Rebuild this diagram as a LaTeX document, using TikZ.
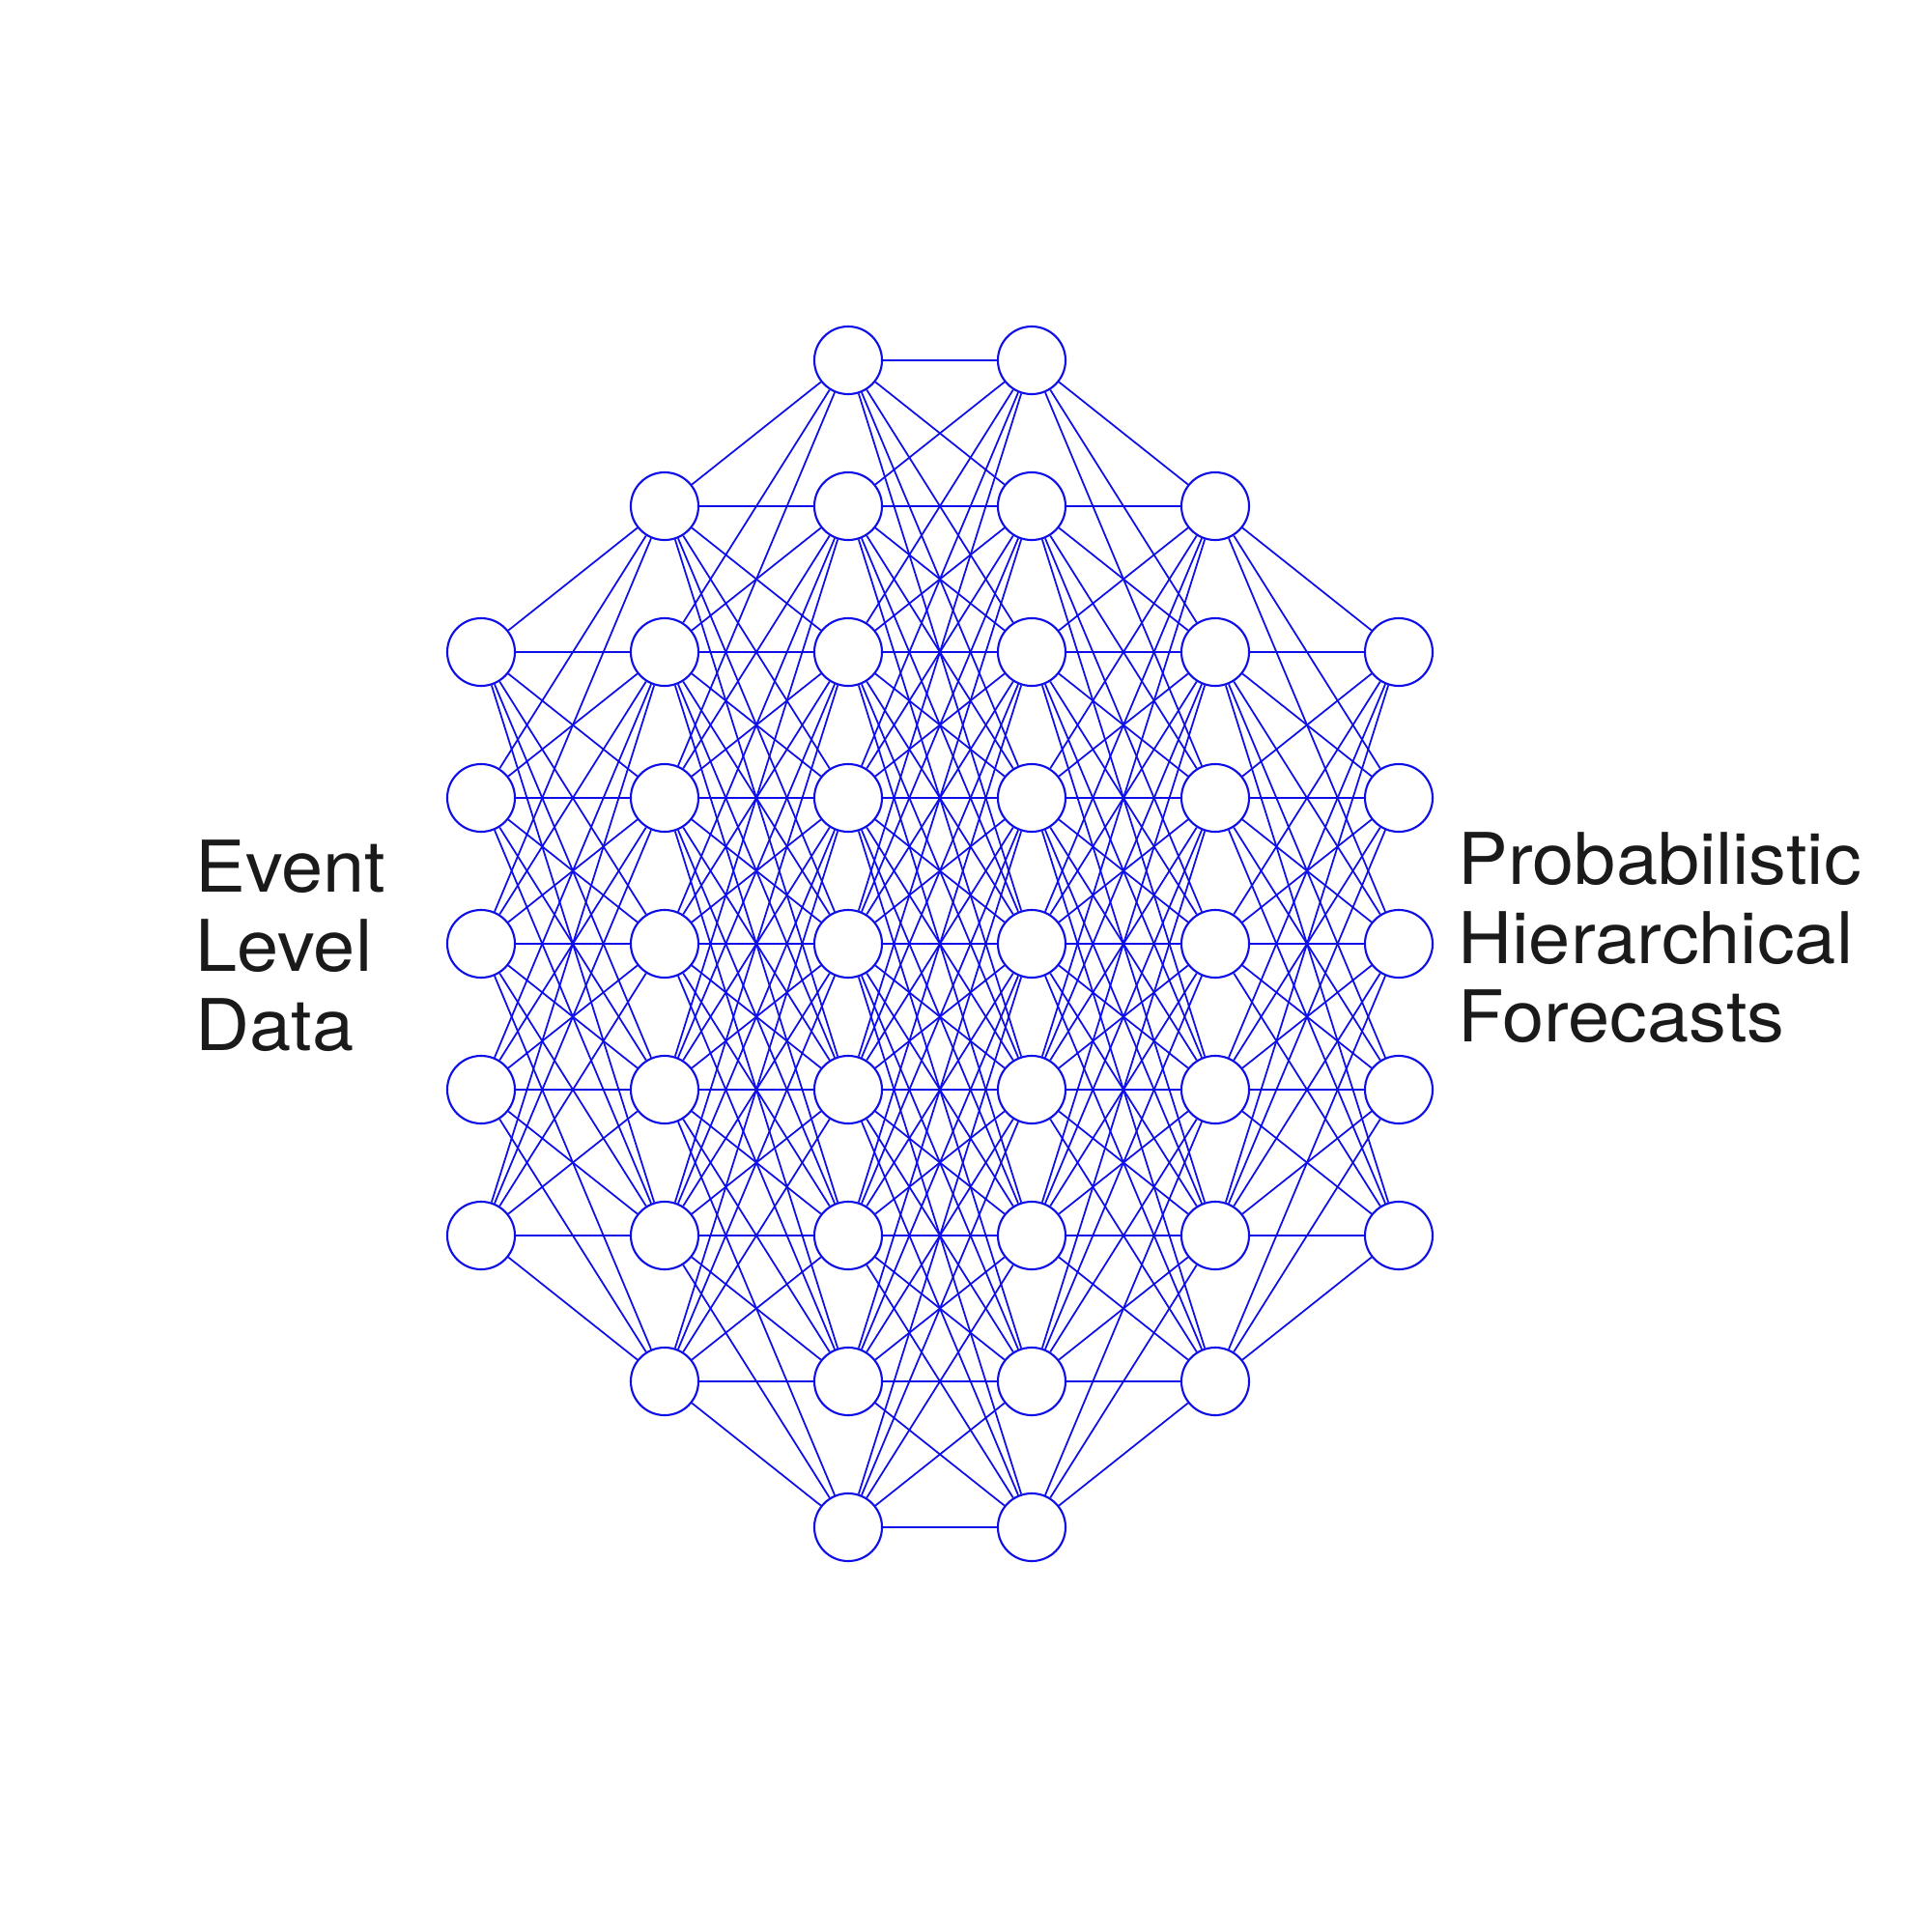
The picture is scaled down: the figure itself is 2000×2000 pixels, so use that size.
\documentclass[tikz,border=0pt]{standalone}
\usepackage{fontspec}
\setmainfont{TeX Gyre Heros}[FakeStretch=1.05]
\definecolor{netblue}{RGB}{14,14,232}
\definecolor{txtgray}{RGB}{26,26,26}
\begin{document}
\begin{tikzpicture}[x=0.01cm,y=-0.01cm,
  neuron/.style={circle,draw=netblue,fill=white,line width=0.6pt,minimum size=0.7cm,inner sep=0pt},
  link/.style={draw=netblue,line width=0.5pt},
  label/.style={anchor=base west,inner sep=0pt,text=txtgray,font=\fontsize{21pt}{23pt}\selectfont}]
\useasboundingbox[fill=white] (0,0) rectangle (2000,2000);
% nodes: column c, level l (0..8), y = 977 + 151*(l-4)
\foreach \c/\lo/\hi in {1/2/6,2/1/7,3/0/8,4/0/8,5/1/7,6/2/6}{
  \foreach \l in {\lo,...,\hi}{
    \node[neuron] (n\c-\l) at ({498+190*(\c-1)},{977+151*(\l-4)}) {};
  }
}
% connectors between adjacent columns
\foreach \c/\d/\alo/\ahi/\blo/\bhi/\ea/\eb in {1/2/2/6/1/7/1/7,2/3/1/7/0/8/0/8,3/4/0/8/0/8/-1/-1,4/5/0/8/1/7/0/8,5/6/1/7/2/6/1/7}{
  \foreach \i in {\alo,...,\ahi}{
    \foreach \j in {\blo,...,\bhi}{
      \pgfmathtruncatemacro{\dd}{abs(\i-\j)}
      \pgfmathtruncatemacro{\ok}{(\dd<4)||((\dd==4)&&(\i!=\ea)&&(\i!=\eb)&&(\j!=\ea)&&(\j!=\eb))}
      \ifnum\ok=1
        \draw[link] (n\c-\i) -- (n\d-\j);
      \fi
    }
  }
}
\node[label] (t1) at (202,923) {Event};
\node[label] (t2) at (202,1005) {Level};
\node[label] (t3) at (202,1087) {Data};
\node[label] (t4) at (1509,915) {Probabilistic};
\node[label] (t5) at (1509,997) {Hierarchical};
\node[label] (t6) at (1509,1078) {Forecasts};
\end{tikzpicture}
\end{document}
